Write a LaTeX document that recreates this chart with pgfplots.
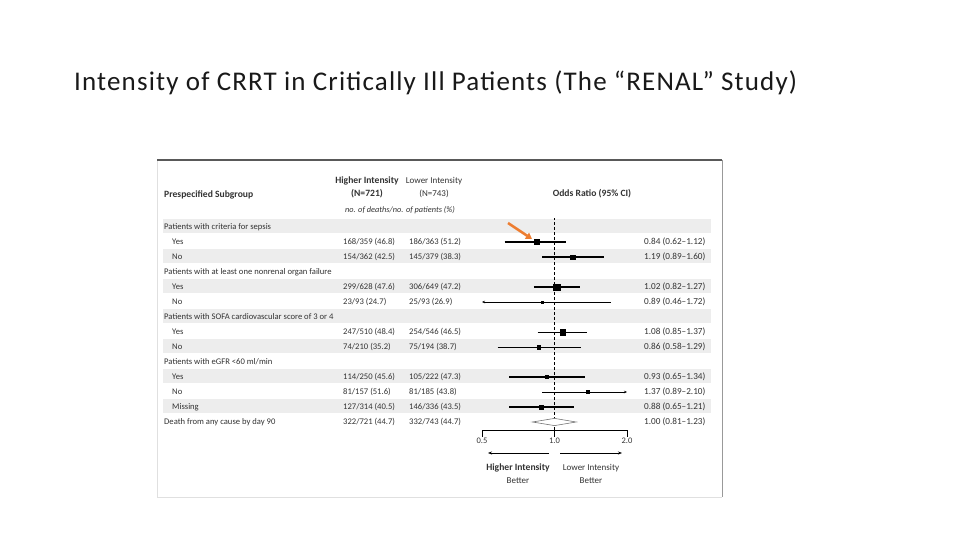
\documentclass[border=0pt]{standalone}
\usepackage{fontspec}
\setmainfont{Carlito}
\newfontfamily\titlefont[LetterSpace=4.3]{Carlito}
\usepackage{pgfplots}
\pgfplotsset{compat=1.18}
\usetikzlibrary{arrows.meta}

\definecolor{band}{gray}{0.93}
\definecolor{txt}{gray}{0.2}
\definecolor{callout}{HTML}{ED7D31}

\newcommand\bodyfont{\fontsize{8.6}{10}\selectfont}
\newcommand\headfont{\fontsize{9.6}{11}\selectfont\bfseries}

% row helpers, y is the row centre in pixels from the top
\newcommand\hdr[2]{\node[anchor=base west] at (164,{#1+3}) {#2};}
\newcommand\sub[6]{%
  \node[anchor=base west] at (#6,{#1+3}) {#2};
  \node[anchor=base west] at (343,{#1+3}) {#3};
  \node[anchor=base west] at (409,{#1+3}) {#4};
  \node[anchor=base west,font=\fontsize{9.2}{10}\selectfont] at (644,{#1+3}) {#5};}

\begin{document}
\begin{tikzpicture}[x=1pt,y=1pt]
\useasboundingbox (0,0) rectangle (960,540);
\fill[white] (0,0) rectangle (960,540);

\begin{scope}[yshift=540pt,y=-1pt,
  every node/.style={inner sep=0pt,text=txt,font=\bodyfont}]
  % title
  \node[anchor=base west,text=black!90,font=\titlefont\fontsize{27}{32}\selectfont]
    at (74,91) {Intensity of CRRT in Critically Ill Patients (The “RENAL” Study)};
  % panel frame
  \draw[black!12,line width=0.6pt] (157,160) -- (157,497) -- (722,497);
  \draw[black!40,line width=0.8pt] (722,160) -- (722,497);
  \draw[black!65,line width=1.2pt] (157,160) -- (722,160);
  % shaded rows
  \foreach \c in {227,257,287,317,347,377,407}
    \fill[band] (163,\c-7.5) rectangle (711,\c+6.5);
  % column headers
  \node[anchor=base west,font=\headfont] at (164,198) {Prespecified Subgroup};
  \node[anchor=base,font=\headfont] at (367,184) {Higher Intensity};
  \node[anchor=base,font=\headfont] at (367,197) {(N=721)};
  \node[anchor=base,font=\fontsize{9}{11}\selectfont] at (434,184) {Lower Intensity};
  \node[anchor=base,font=\fontsize{9}{11}\selectfont] at (434,197) {(N=743)};
  \node[anchor=base,font=\fontsize{8.3}{10}\itshape] at (400,213) {no. of deaths/no. of patients (\%)};
  \node[anchor=base,font=\headfont] at (592,197) {Odds Ratio (95\% CI)};
  % table body
  \hdr{227}{Patients with criteria for sepsis}
  \sub{242}{Yes}{168/359 (46.8)}{186/363 (51.2)}{0.84 (0.62–1.12)}{172}
  \sub{257}{No}{154/362 (42.5)}{145/379 (38.3)}{1.19 (0.89–1.60)}{172}
  \hdr{272}{Patients with at least one nonrenal organ failure}
  \sub{287}{Yes}{299/628 (47.6)}{306/649 (47.2)}{1.02 (0.82–1.27)}{172}
  \sub{302}{No}{23/93 (24.7)}{25/93 (26.9)}{0.89 (0.46–1.72)}{172}
  \hdr{317}{Patients with SOFA cardiovascular score of 3 or 4}
  \sub{332}{Yes}{247/510 (48.4)}{254/546 (46.5)}{1.08 (0.85–1.37)}{172}
  \sub{347}{No}{74/210 (35.2)}{75/194 (38.7)}{0.86 (0.58–1.29)}{172}
  \hdr{362}{Patients with eGFR <60 ml/min}
  \sub{377}{Yes}{114/250 (45.6)}{105/222 (47.3)}{0.93 (0.65–1.34)}{172}
  \sub{392}{No}{81/157 (51.6)}{81/185 (43.8)}{1.37 (0.89–2.10)}{172}
  \sub{407}{Missing}{127/314 (40.5)}{146/336 (43.5)}{0.88 (0.65–1.21)}{172}
  \sub{422}{Death from any cause by day 90}{322/721 (44.7)}{332/743 (44.7)}{1.00 (0.81–1.23)}{164}
  % favour arrows and captions
  \draw[black,line width=0.7pt,-{Stealth[length=4pt,width=3pt]}] (549,453) -- (488,453);
  \draw[black,line width=0.7pt,-{Stealth[length=4pt,width=3pt]}] (560,453) -- (622,453);
  \node[anchor=base,font=\headfont] at (518,471) {Higher Intensity};
  \node[anchor=base,font=\fontsize{9}{11}\selectfont] at (518,484) {Better};
  \node[anchor=base,font=\fontsize{9}{11}\selectfont] at (591,471) {Lower Intensity};
  \node[anchor=base,font=\fontsize{9}{11}\selectfont] at (591,484) {Better};
\end{scope}

\begin{axis}[
  at={(482pt,110pt)}, anchor=south west,
  scale only axis, width=145pt, height=212pt,
  xmode=log, xmin=0.5, xmax=2,
  ymin=0.4667, ymax=14.6,
  axis x line=bottom, axis y line=none,
  x axis line style={-, black, line width=0.8pt},
  xtick={0.5,1,2}, xticklabels={0.5,1.0,2.0},
  minor xtick={},
  tick align=outside, major tick length=7pt,
  xtick style={black, line width=0.8pt},
  xticklabel style={font=\fontsize{8.5}{10}\selectfont, text=txt, inner sep=1pt},
]
% reference line at OR = 1
\addplot[black, line width=0.8pt, dash pattern=on 3pt off 2pt] coordinates {(1,0.4667) (1,14.6)};
% confidence intervals
\addplot[black, line width=2.2pt] coordinates {(0.62,13) (1.12,13)};
\addplot[black, line width=2.2pt] coordinates {(0.89,12) (1.60,12)};
\addplot[black, line width=2.2pt] coordinates {(0.82,10) (1.27,10)};
\addplot[black, line width=0.8pt, {Stealth[length=3pt,width=2.5pt]}-] coordinates {(0.5,9) (1.72,9)};
\addplot[black, line width=0.8pt] coordinates {(0.85,7) (1.37,7)};
\addplot[black, line width=0.8pt] coordinates {(0.58,6) (1.29,6)};
\addplot[black, line width=2.2pt] coordinates {(0.65,4) (1.34,4)};
\addplot[black, line width=0.8pt, -{Stealth[length=3pt,width=2.5pt]}] coordinates {(0.89,3) (2.0,3)};
\addplot[black, line width=2.2pt] coordinates {(0.65,2) (1.21,2)};
% point estimates, square size follows weight
\addplot[only marks, mark=square*, mark size=2.5pt, black] coordinates {(0.84,13)};
\addplot[only marks, mark=square*, mark size=2.2pt, black] coordinates {(1.19,12)};
\addplot[only marks, mark=square*, mark size=3.2pt, black] coordinates {(1.02,10)};
\addplot[only marks, mark=square*, mark size=1.0pt, black] coordinates {(0.89,9)};
\addplot[only marks, mark=square*, mark size=2.8pt, black] coordinates {(1.08,7)};
\addplot[only marks, mark=square*, mark size=1.8pt, black] coordinates {(0.86,6)};
\addplot[only marks, mark=square*, mark size=1.6pt, black] coordinates {(0.93,4)};
\addplot[only marks, mark=square*, mark size=1.6pt, black] coordinates {(1.37,3)};
\addplot[only marks, mark=square*, mark size=2.2pt, black] coordinates {(0.88,2)};
% overall estimate
\addplot[draw=black!55, fill=white, line width=0.6pt] coordinates {(0.81,1) (1,1.24) (1.23,1) (1,0.76)} -- cycle;
\end{axis}

% callout arrow
\draw[callout, line width=2.6pt, -{Triangle[length=6pt,width=7pt]}] (508,{540-223}) -- (532,{540-239});
\end{tikzpicture}
\end{document}
